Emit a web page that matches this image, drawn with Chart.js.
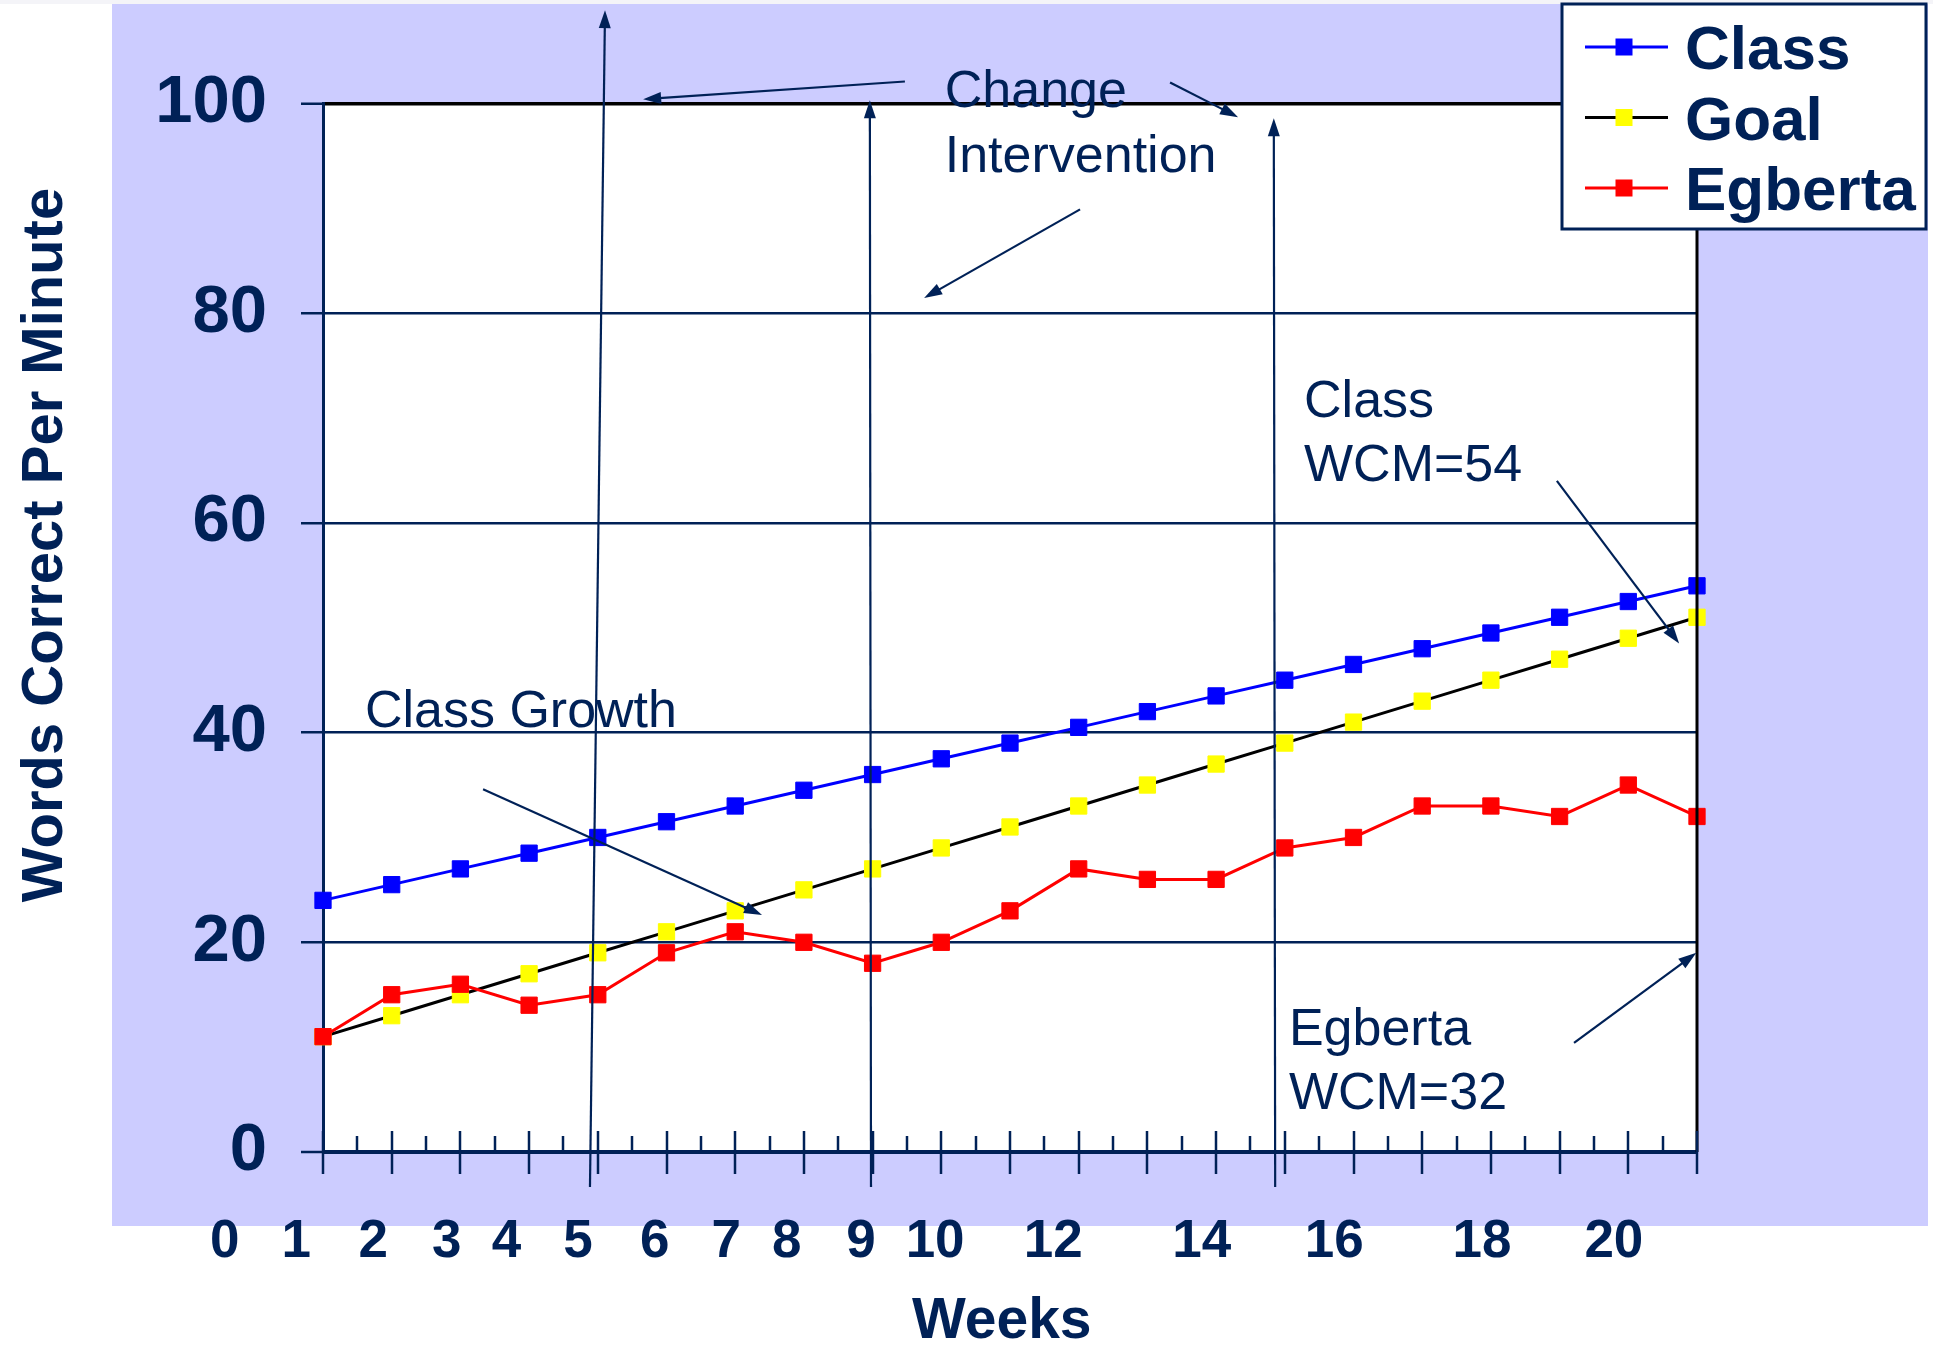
<!DOCTYPE html>
<html>
<head>
<meta charset="utf-8">
<script src="https://cdn.jsdelivr.net/npm/chart.js@4/dist/chart.umd.min.js"></script>
<style>
html,body{margin:0;padding:0;background:#ffffff;}
#wrap{width:1933px;height:1348px;position:relative;}
</style>
</head>
<body>
<div id="wrap"><canvas id="c" width="1933" height="1348"></canvas></div>
<script>
// ---------- data ----------
const weeks = [0,1,2,3,4,5,6,7,8,9,10,11,12,13,14,15,16,17,18,19,20];
const classWcm   = [24,25.5,27,28.5,30,31.5,33,34.5,36,37.5,39,40.5,42,43.5,45,46.5,48,49.5,51,52.5,54];
const goalWcm    = [11,13,15,17,19,21,23,25,27,29,31,33,35,37,39,41,43,45,47,49,51];
const egbertaWcm = [11,15,16,14,15,19,21,20,18,20,23,27,26,26,29,30,33,33,32,35,32];
const seriesNames = ['Class','Goal','Egberta'];
const yTickValues = [0,20,40,60,80,100];
const xTickLabels = ['0','1','2','3','4','5','6','7','8','9','10','12','14','16','18','20'];
// where each printed week label sits, in week units of the x scale
const xTickLabelAt = [-1.43,-0.39,0.73,1.80,2.67,3.71,4.83,5.87,6.75,7.83,8.91,10.63,12.79,14.72,16.87,18.79];
const yTitle = 'Words Correct Per Minute';
const xTitle = 'Weeks';
const xTitleAt = 9.88;
// annotation texts (x = left edge in weeks, y = baseline in WCM)
const noteTexts = [
  {text:'Change', x:9.05, y:99.67},
  {text:'Intervention', x:9.05, y:93.47},
  {text:'Class Growth', x:0.61, y:40.53},
  {text:'Class', x:14.28, y:70.10},
  {text:'WCM=54', x:14.28, y:64.0},
  {text:'Egberta', x:14.06, y:10.2},
  {text:'WCM=32', x:14.06, y:4.1}
];
// annotation arrows (from -> to, head at "to"), in weeks / WCM
const noteArrows = [
  {x1:3.886, y1:-3.34, x2:4.105, y2:108.9},
  {x1:7.977, y1:-3.34, x2:7.96,  y2:100.3},
  {x1:13.86, y1:-3.34, x2:13.84, y2:98.6},
  {x1:8.47,  y1:102.1, x2:4.66,  y2:100.4},
  {x1:12.33, y1:102.0, x2:13.32, y2:98.7},
  {x1:11.02, y1:89.9,  x2:8.75,  y2:81.45},
  {x1:2.33,  y1:34.6,  x2:6.39,  y2:22.6},
  {x1:17.96, y1:64.0,  x2:19.74, y2:48.5},
  {x1:18.21, y1:10.4,  x2:19.99, y2:19.0}
];

// ---------- styles ----------
const NAVY = '#002157';
const LAV = '#CCCCFF';
const FONT = '"Liberation Sans", Arial, sans-serif';

const decorPlugin = {
  id: 'decor',
  beforeDraw(chart) {
    const ctx = chart.ctx, a = chart.chartArea;
    ctx.save();
    ctx.fillStyle = '#ffffff';
    ctx.fillRect(0, 0, chart.width, chart.height);
    ctx.fillStyle = '#F4F4F8';
    ctx.fillRect(0, 0, chart.width, 4);
    ctx.fillStyle = LAV;
    ctx.fillRect(112, 4, 1816, 1222);
    ctx.fillStyle = '#ffffff';
    ctx.fillRect(a.left, a.top, a.right - a.left, a.bottom - a.top);
    ctx.restore();
  },
  afterDatasetsDraw(chart) {
    const ctx = chart.ctx, a = chart.chartArea;
    const xs = chart.scales.x, ys = chart.scales.y;
    const px = v => xs.getPixelForValue(v);
    const py = v => ys.getPixelForValue(v);
    ctx.save();
    // right border of plot
    ctx.strokeStyle = '#000000';
    ctx.lineWidth = 3;
    ctx.beginPath();
    ctx.moveTo(a.right, a.top - 1.5);
    ctx.lineTo(a.right, a.bottom);
    ctx.stroke();
    // x ticks: majors cross the axis, minors above only
    ctx.strokeStyle = NAVY;
    ctx.lineWidth = 2.5;
    for (let i = 0; i < weeks.length; i++) {
      const x = Math.round(px(weeks[i])) ;
      ctx.beginPath();
      ctx.moveTo(x, a.bottom - 21);
      ctx.lineTo(x, a.bottom + 22);
      ctx.stroke();
      if (i < weeks.length - 1) {
        const xm = Math.round(px((weeks[i] + weeks[i + 1]) / 2));
        ctx.beginPath();
        ctx.moveTo(xm, a.bottom - 16);
        ctx.lineTo(xm, a.bottom);
        ctx.stroke();
      }
    }
    // annotation arrows
    ctx.strokeStyle = NAVY;
    ctx.fillStyle = NAVY;
    ctx.lineWidth = 2.2;
    noteArrows.forEach(ar => {
      const x1 = px(ar.x1), y1 = py(ar.y1), x2 = px(ar.x2), y2 = py(ar.y2);
      const ang = Math.atan2(y2 - y1, x2 - x1);
      const L = 18, W = 6;
      const bx = x2 - L * Math.cos(ang), by = y2 - L * Math.sin(ang);
      ctx.beginPath();
      ctx.moveTo(x1, y1);
      ctx.lineTo(bx + 2 * Math.cos(ang), by + 2 * Math.sin(ang));
      ctx.stroke();
      ctx.beginPath();
      ctx.moveTo(x2, y2);
      ctx.lineTo(bx + W * Math.sin(ang), by - W * Math.cos(ang));
      ctx.lineTo(bx - W * Math.sin(ang), by + W * Math.cos(ang));
      ctx.closePath();
      ctx.fill();
    });
    // annotation texts
    ctx.font = '52px ' + FONT;
    ctx.textAlign = 'left';
    ctx.textBaseline = 'alphabetic';
    noteTexts.forEach(t => ctx.fillText(t.text, px(t.x), py(t.y)));
    // x tick labels
    ctx.font = 'bold 53px ' + FONT;
    ctx.textAlign = 'center';
    xTickLabels.forEach((lab, i) => ctx.fillText(lab, px(xTickLabelAt[i]), a.bottom + 105));
    // x title
    ctx.font = 'bold 57px ' + FONT;
    ctx.fillText(xTitle, px(xTitleAt), a.bottom + 186);
    // y title
    ctx.save();
    ctx.translate(62, 545);
    ctx.rotate(-Math.PI / 2);
    ctx.font = 'bold 58px ' + FONT;
    ctx.textAlign = 'center';
    ctx.fillText(yTitle, 0, 0);
    ctx.restore();
    // legend
    const lx = 1562, ly = 4, lw = 364, lh = 225;
    ctx.fillStyle = '#ffffff';
    ctx.fillRect(lx, ly, lw, lh);
    ctx.strokeStyle = NAVY;
    ctx.lineWidth = 3;
    ctx.strokeRect(lx, ly, lw, lh);
    chart.data.datasets.forEach((ds, i) => {
      const cy = 47 + i * 70.5;
      ctx.strokeStyle = ds.borderColor;
      ctx.lineWidth = 3;
      ctx.beginPath();
      ctx.moveTo(1585, cy);
      ctx.lineTo(1668, cy);
      ctx.stroke();
      ctx.fillStyle = ds.pointBackgroundColor;
      ctx.fillRect(1615.5, cy - 8.5, 17, 17);
      ctx.fillStyle = NAVY;
      ctx.font = 'bold 62px ' + FONT;
      ctx.textAlign = 'left';
      ctx.fillText(ds.label, 1685, cy + 22);
    });
    ctx.restore();
  }
};

const mk = (label, data, line, pt, order) => ({
  label, data: weeks.map((w, i) => ({x: w, y: data[i]})),
  borderColor: line, backgroundColor: pt,
  pointBackgroundColor: pt, pointBorderColor: pt,
  pointStyle: 'rect', pointRadius: 11.5, pointBorderWidth: 1,
  borderWidth: 3, tension: 0, clip: false, order
});

new Chart(document.getElementById('c'), {
  type: 'line',
  data: {
    datasets: [
      mk(seriesNames[0], classWcm, '#0000FF', '#0000FF', 2),
      mk(seriesNames[1], goalWcm, '#000000', '#FFFF00', 1),
      mk(seriesNames[2], egbertaWcm, '#FF0000', '#FF0000', 0)
    ]
  },
  options: {
    responsive: false,
    animation: false,
    events: [],
    layout: { autoPadding: false, padding: { left: 0, top: 103.5, right: 236, bottom: 196 } },
    plugins: { legend: { display: false }, tooltip: { enabled: false } },
    scales: {
      x: { type: 'linear', min: weeks[0], max: weeks[weeks.length - 1], display: false },
      y: {
        min: 0, max: 100,
        afterFit: s => { s.width = 323; },
        afterBuildTicks: s => { s.ticks = yTickValues.map(v => ({value: v})); },
        ticks: { color: NAVY, padding: 34, font: { family: FONT, size: 67, weight: 'bold' } },
        grid: {
          drawTicks: true, tickLength: 22, tickColor: NAVY, tickWidth: 2.5,
          color: c => c.tick && c.tick.value === 100 ? '#000000' : NAVY,
          lineWidth: c => c.tick && c.tick.value === 100 ? 3.5 : (c.tick && c.tick.value === 0 ? 4 : 2.5)
        },
        border: { display: true, color: NAVY, width: 3 }
      }
    }
  },
  plugins: [decorPlugin]
});
</script>
</body>
</html>
